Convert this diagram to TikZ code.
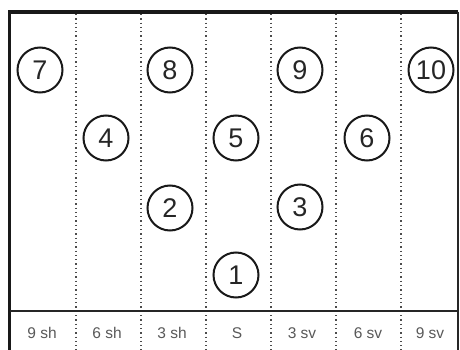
\documentclass[tikz,border=0pt]{standalone}
\usepackage{fontspec}
\setmainfont{Liberation Sans}
\begin{document}
\begin{tikzpicture}[x=1pt,y=-1pt,
  frameline/.style={line width=3.2pt,black!90},
  divline/.style={line width=1.3pt,black!70,dash pattern=on 1.3pt off 3pt},
  player/.style={circle,draw=black!90,line width=2pt,minimum size=45pt,inner sep=0pt,font=\fontsize{27}{27}\selectfont,text=black!85},
  lab/.style={font=\fontsize{15.5}{15.5}\selectfont,text=black!65}]
\useasboundingbox (0,0) rectangle (460,350);
\fill[white] (0,0) rectangle (460,350);
% column dividers
\foreach \x in {76,141,206,271,336,401}{
  \draw[divline] (\x,14) -- (\x,350);
}
% frame
\draw[frameline] (9.5,350) -- (9.5,12) -- (458,12);
\draw[line width=1.6pt,black!85] (458,12) -- (458,350);
\draw[line width=1.8pt,black!85] (9.5,311) -- (458,311);
% positions
\node[player] (p7) at (40,70) {7};
\node[player] (p8) at (170,70) {8};
\node[player] (p9) at (300,70) {9};
\node[player] (p10) at (431,70) {10};
\node[player] (p4) at (106,138) {4};
\node[player] (p5) at (236,138) {5};
\node[player] (p6) at (367,138) {6};
\node[player] (p2) at (170,208) {2};
\node[player] (p3) at (300,207) {3};
\node[player] (p1) at (236,275) {1};
% labels
\node[lab] (l1) at (42,333) {9 sh};
\node[lab] (l2) at (107,333) {6 sh};
\node[lab] (l3) at (172,333) {3 sh};
\node[lab] (l4) at (237,333) {S};
\node[lab] (l5) at (302,333) {3 sv};
\node[lab] (l6) at (368,333) {6 sv};
\node[lab] (l7) at (430,333) {9 sv};
\end{tikzpicture}
\end{document}
